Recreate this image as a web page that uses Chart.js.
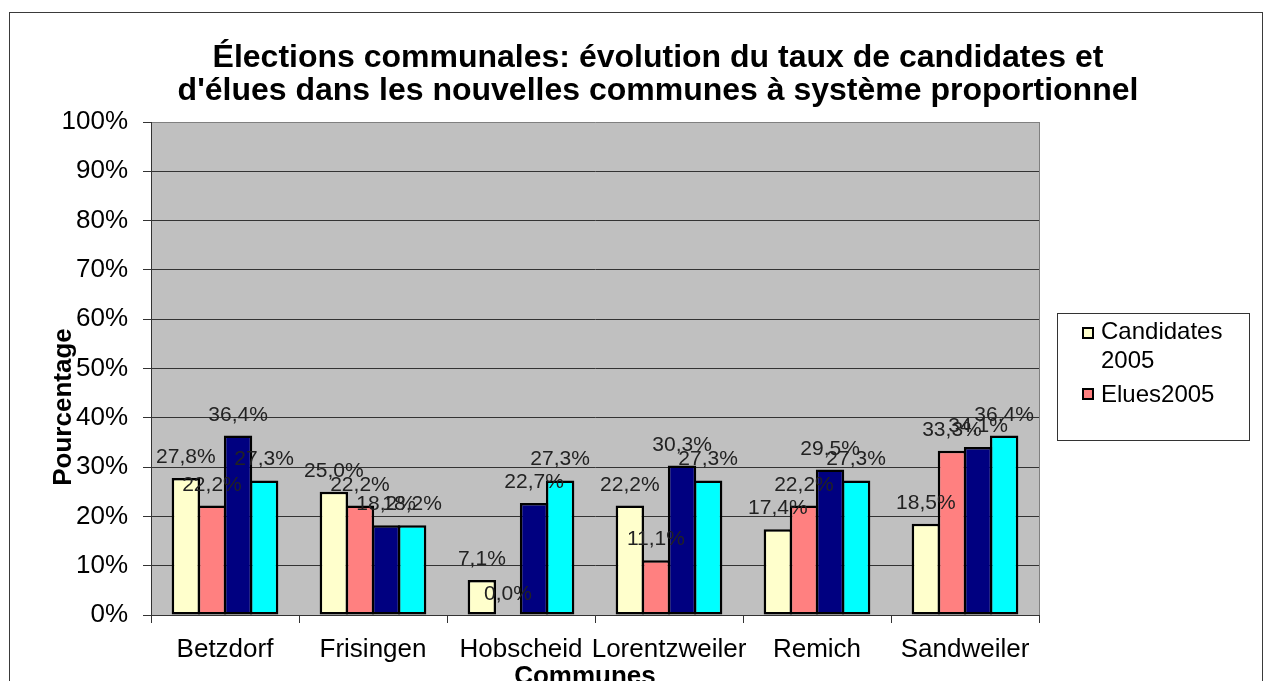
<!DOCTYPE html>
<html>
<head>
<meta charset="utf-8">
<script src="https://cdn.jsdelivr.net/npm/chart.js@4.4.1/dist/chart.umd.min.js"></script>
<style>
html,body{margin:0;padding:0;background:#fff;}
#wrap{width:1264px;height:681px;position:relative;overflow:hidden;}
</style>
</head>
<body>
<div id="wrap"><canvas id="c" width="1264" height="681"></canvas></div>
<script>
const categories = ['Betzdorf', 'Frisingen', 'Hobscheid', 'Lorentzweiler', 'Remich', 'Sandweiler'];
const candidates2005 = [27.8, 25.0, 7.1, 22.2, 17.4, 18.5];
const elues2005 = [22.2, 22.2, 0.0, 11.1, 22.2, 33.3];
const candidates2011 = [36.4, 18.2, 22.7, 30.3, 29.5, 34.1];
const elues2011 = [27.3, 18.2, 27.3, 27.3, 27.3, 36.4];
const seriesNames = ['Candidates 2005', 'Elues2005', 'Candidates 2011', 'Elues2011'];
const legendLines = [['Candidates', '2005'], ['Elues2005']];
const titleLines = ["Élections communales: évolution du taux de candidates et", "d'élues dans les nouvelles communes à système proportionnel"];
const yTitle = 'Pourcentage';
const xTitle = 'Communes';

const FAM = '"Liberation Sans", Arial, sans-serif';
const colors = ['#FFFFCC', '#FF8080', '#000080', '#00FFFF'];
const seriesData = [candidates2005, elues2005, candidates2011, elues2011];

const decor = {
  id: 'decor',
  beforeDraw(chart) {
    const ctx = chart.ctx, a = chart.chartArea;
    ctx.save();
    ctx.fillStyle = '#fff';
    ctx.fillRect(0, 0, chart.width, chart.height);
    ctx.strokeStyle = '#3a3a3a';
    ctx.lineWidth = 1;
    ctx.strokeRect(9.5, 12.5, 1253, 700);
    ctx.fillStyle = '#C0C0C0';
    ctx.fillRect(a.left, a.top, a.right - a.left, a.bottom - a.top);
    ctx.restore();
  },
  afterDatasetsDraw(chart) {
    const ctx = chart.ctx;
    ctx.save();
    ctx.font = '21px ' + FAM;
    ctx.fillStyle = '#222';
    ctx.textAlign = 'center';
    ctx.textBaseline = 'alphabetic';
    chart.data.datasets.forEach((ds, i) => {
      const meta = chart.getDatasetMeta(i);
      meta.data.forEach((el, j) => {
        const v = ds.data[j];
        const t = v.toFixed(1).replace('.', ',') + '%';
        ctx.fillText(t, el.x, el.y - 15);
      });
    });
    ctx.restore();
  },
  afterDraw(chart) {
    const ctx = chart.ctx, a = chart.chartArea;
    ctx.save();
    // plot right border
    ctx.strokeStyle = '#808080';
    ctx.lineWidth = 1;
    ctx.beginPath();
    ctx.moveTo(a.right + 0.5, a.top);
    ctx.lineTo(a.right + 0.5, a.bottom);
    ctx.stroke();
    // title
    ctx.fillStyle = '#000';
    ctx.textAlign = 'center';
    ctx.textBaseline = 'alphabetic';
    ctx.font = 'bold 32px ' + FAM;
    ctx.fillText(titleLines[0], 658, 67);
    ctx.fillText(titleLines[1], 658, 100);
    // x title
    ctx.font = 'bold 26px ' + FAM;
    ctx.fillText(xTitle, 585, 684);
    // y title
    ctx.save();
    ctx.translate(71, 407);
    ctx.rotate(-Math.PI / 2);
    ctx.font = 'bold 26px ' + FAM;
    ctx.fillText(yTitle, 0, 0);
    ctx.restore();
    // legend
    ctx.strokeStyle = '#333';
    ctx.lineWidth = 1;
    ctx.strokeRect(1057.5, 313.5, 192, 127);
    ctx.textAlign = 'left';
    ctx.font = '24px ' + FAM;
    const ents = [{sq: 327, lines: [[legendLines[0][0], 339], [legendLines[0][1], 368]]},
                  {sq: 388, lines: [[legendLines[1][0], 402]]}];
    ents.forEach((e, i) => {
      const ds = chart.data.datasets[i];
      ctx.fillStyle = ds.backgroundColor;
      ctx.fillRect(1082, e.sq, 12, 12);
      ctx.strokeStyle = '#000';
      ctx.lineWidth = 2;
      ctx.strokeRect(1083, e.sq + 1, 10, 10);
      ctx.fillStyle = '#000';
      e.lines.forEach(l => ctx.fillText(l[0], 1101, l[1]));
    });
    ctx.restore();
  }
};

new Chart(document.getElementById('c'), {
  type: 'bar',
  data: {
    labels: categories,
    datasets: seriesData.map((d, i) => ({
      label: seriesNames[i],
      data: d,
      backgroundColor: colors[i],
      borderColor: '#000',
      borderWidth: 2.5,
      borderSkipped: false,
      barPercentage: 1.09,
      categoryPercentage: 0.705
    }))
  },
  options: {
    responsive: false,
    animation: false,
    devicePixelRatio: 1,
    layout: {padding: {top: 122, right: 225, bottom: 0, left: 0}},
    plugins: {legend: {display: false}, title: {display: false}, tooltip: {enabled: false}},
    scales: {
      x: {
        offset: true,
        ticks: {font: {size: 26, family: FAM}, color: '#000', padding: 11, autoSkip: false, maxRotation: 0},
        grid: {drawOnChartArea: false, offset: true, tickLength: 8, tickColor: '#333', tickWidth: 1},
        border: {color: '#333', width: 1},
        afterFit(s) { s.height = 66; }
      },
      y: {
        min: 0, max: 100,
        ticks: {stepSize: 10, callback: v => v + '%', font: {size: 26, family: FAM}, color: '#000', padding: 15},
        grid: {color: c => (c.tick && c.tick.value === 100) ? '#808080' : '#333', tickLength: 8, tickColor: '#333', lineWidth: 1},
        border: {color: '#333', width: 1},
        afterFit(s) { s.width = 151; }
      }
    }
  },
  plugins: [decor]
});
</script>
</body>
</html>
